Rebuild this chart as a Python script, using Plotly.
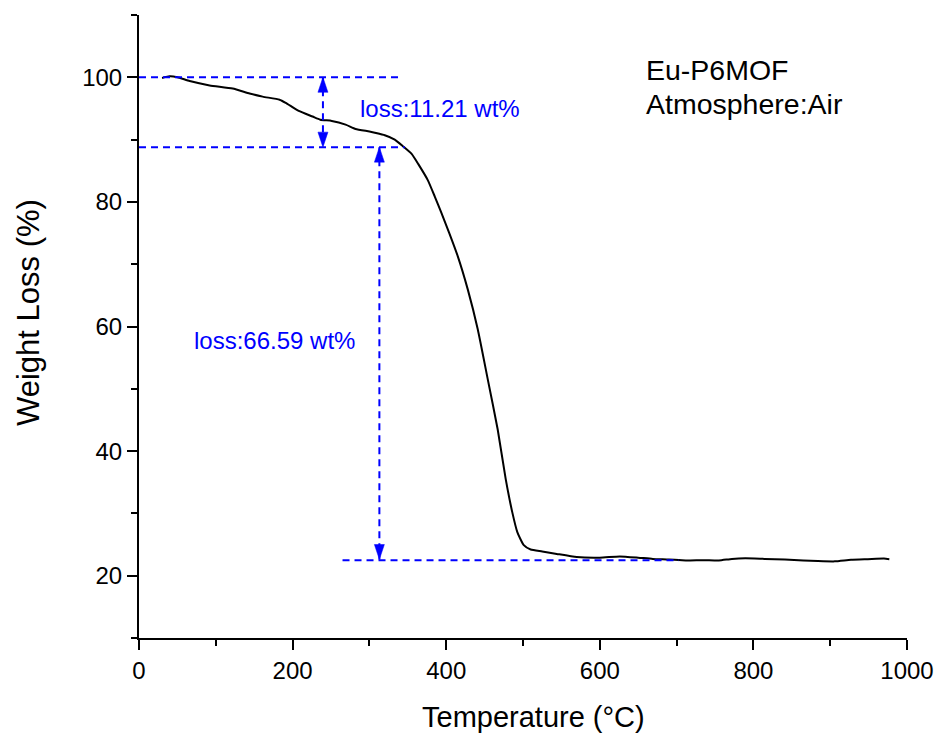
import plotly.graph_objects as go

# TGA curve (temperature in °C, weight %)
temperature = [30, 40, 50, 66, 92, 122, 144, 161, 183, 191, 208, 226, 236, 251, 269, 282, 300,
               307, 320, 333, 344, 355, 363.5, 376, 385, 393.5, 404, 415, 428, 441, 454,
               467, 477.5, 486, 492.6, 501, 510, 525, 544, 570, 600, 626, 650, 669, 690, 712,
               735, 755, 772, 789.5, 815, 841, 865, 884, 906, 927, 949, 970, 977]
weight = [99.9, 100.15, 100.0, 99.4, 98.7, 98.2, 97.4, 96.9, 96.4, 95.9, 94.6, 93.7, 93.2, 93.0,
          92.4, 91.7, 91.3, 91.1, 90.7, 90.0, 88.9, 87.7, 86.1, 83.5, 80.9, 78.3, 75.0,
          71.3, 66.0, 59.6, 51.6, 43.5, 35.5, 30.2, 27.0, 24.9, 24.2, 23.9, 23.5, 23.0, 22.9,
          23.1, 22.9, 22.7, 22.6, 22.45, 22.5, 22.45, 22.7, 22.8, 22.7, 22.6, 22.45, 22.35,
          22.3, 22.55, 22.65, 22.75, 22.65]

# guide levels (%) and their horizontal extents (°C)
levels = [100.0, 88.79, 22.5]
level_x0 = [0, 0, 265]
level_x1 = [342, 346, 703]
# vertical double arrows: x position, top level, bottom level
arrow_x = [239.5, 313]
arrow_top = [100.0, 88.79]
arrow_bottom = [88.79, 22.6]
loss_labels = ["loss:11.21 wt%", "loss:66.59 wt%"]
loss_label_x = [392.5, 176]
loss_label_y = [95.0, 57.7]
info_lines = ["Eu-P6MOF", "Atmosphere:Air"]
info_y = [101.1, 95.7]

BLUE = "#0000ff"
FONT = "Arial, Liberation Sans, sans-serif"

fig = go.Figure()
fig.add_trace(go.Scatter(x=temperature, y=weight, mode="lines",
                         line=dict(color="black", width=2, shape="spline", smoothing=0.5),
                         showlegend=False, hoverinfo="skip"))

shapes = []
for lv, a, b in zip(levels, level_x0, level_x1):
    shapes.append(dict(type="line", xref="x", yref="y", x0=a, x1=b, y0=lv, y1=lv,
                       line=dict(color=BLUE, width=2, dash="7px,5px")))
for ax_, t, bt in zip(arrow_x, arrow_top, arrow_bottom):
    shapes.append(dict(type="line", xref="x", yref="y", x0=ax_, x1=ax_, y0=t, y1=bt,
                       line=dict(color=BLUE, width=2, dash="7px,5px")))
    # arrowheads (pixel-sized triangles anchored at the line ends)
    shapes.append(dict(type="path", xref="x", yref="y", xsizemode="pixel", ysizemode="pixel",
                       xanchor=ax_, yanchor=t, path="M -5,-15 L 5,-15 L 0,0 Z",
                       fillcolor=BLUE, line=dict(color=BLUE, width=0.5)))
    shapes.append(dict(type="path", xref="x", yref="y", xsizemode="pixel", ysizemode="pixel",
                       xanchor=ax_, yanchor=bt, path="M -5,15 L 5,15 L 0,0 Z",
                       fillcolor=BLUE, line=dict(color=BLUE, width=0.5)))

annotations = []
for txt, x, y in zip(loss_labels, loss_label_x, loss_label_y):
    annotations.append(dict(text=txt, x=x, y=y, xref="x", yref="y", showarrow=False,
                            xanchor="center", yanchor="middle",
                            font=dict(family=FONT, size=24, color=BLUE)))
for txt, y in zip(info_lines, info_y):
    annotations.append(dict(text=txt, x=657.8, y=y, xref="x", yref="y", showarrow=False,
                            xanchor="left", yanchor="middle",
                            font=dict(family=FONT, size=28.5, color="black")))
annotations.append(dict(text="Temperature (°C)", x=0.514, y=-0.1263, xref="paper", yref="paper",
                        showarrow=False, xanchor="center", yanchor="middle",
                        font=dict(family=FONT, size=29, color="black")))
annotations.append(dict(text="Weight Loss (%)", x=-0.143, y=0.522, xref="paper", yref="paper",
                        showarrow=False, xanchor="center", yanchor="middle", textangle=-90,
                        font=dict(family=FONT, size=31, color="black")))

fig.update_layout(
    width=946, height=739,
    margin=dict(l=138.5, r=33, t=15, b=101),
    paper_bgcolor="white", plot_bgcolor="white",
    shapes=shapes, annotations=annotations,
    font=dict(family=FONT, color="black"),
    xaxis=dict(range=[0, 1000], tick0=0, dtick=200, ticks="outside", ticklen=10, tickwidth=2,
               tickcolor="black", showline=True, linewidth=2, linecolor="black",
               showgrid=False, zeroline=False, tickfont=dict(family=FONT, size=24),
               minor=dict(dtick=100, tick0=0, ticks="outside", ticklen=6, tickwidth=2,
                          tickcolor="black", showgrid=False)),
    yaxis=dict(range=[10, 110], tick0=0, dtick=20, ticks="outside", ticklen=10, tickwidth=2,
               tickcolor="black", showline=True, linewidth=2, linecolor="black",
               showgrid=False, zeroline=False, tickfont=dict(family=FONT, size=24),
               minor=dict(dtick=10, tick0=0, ticks="outside", ticklen=6, tickwidth=2,
                          tickcolor="black", showgrid=False)),
)

fig.write_html("out.html")
